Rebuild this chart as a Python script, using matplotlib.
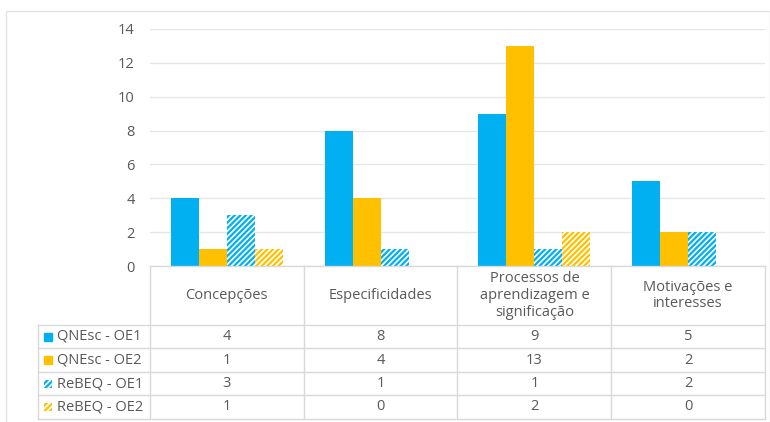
import matplotlib.pyplot as plt
from matplotlib.patches import Rectangle
from matplotlib.lines import Line2D

plt.rcParams['font.family'] = ['Open Sans', 'DejaVu Sans']
plt.rcParams['hatch.linewidth'] = 1.6

# dados
categorias = ['Concepções', 'Especificidades',
              'Processos de\naprendizagem e\nsignificação',
              'Motivações e\ninteresses']
series = ['QNEsc - OE1', 'QNEsc - OE2', 'ReBEQ - OE1', 'ReBEQ - OE2']
qnesc_oe1 = [4, 8, 9, 5]
qnesc_oe2 = [1, 4, 13, 2]
rebeq_oe1 = [3, 1, 1, 2]
rebeq_oe2 = [1, 0, 2, 0]
valores = [qnesc_oe1, qnesc_oe2, rebeq_oe1, rebeq_oe2]

azul = '#00B0F0'
ouro = '#FFC000'
cores = [azul, ouro, azul, ouro]
hachuras = [None, None, '//////', '//////']
texto = '#595959'
linha = '#D9D9D9'
fs = 10.5

W, H = 770, 422
fig = plt.figure(figsize=(W / 100, H / 100), dpi=100)

def fx(px):
    return px / W

def fy(py):
    return 1 - py / H

# moldura
fig.add_artist(Rectangle((fx(6), fy(424)), fx(770) - fx(6), fy(11) - fy(424),
                         transform=fig.transFigure, fill=False,
                         edgecolor='#E3E3E3', lw=1))

# grafico de barras
x0, x1, ytop, ybase = 150, 765, 29, 266
ax = fig.add_axes([fx(x0), fy(ybase), fx(x1) - fx(x0), fy(ytop) - fy(ybase)])
larg = 0.182
for i, (vals, cor, h) in enumerate(zip(valores, cores, hachuras)):
    pos = [k + (i - 1.5) * larg for k in range(len(categorias))]
    if h is None:
        ax.bar(pos, vals, width=larg, color=cor, zorder=3)
    else:
        ax.bar(pos, vals, width=larg, facecolor='white', edgecolor=cor,
               hatch=h, linewidth=0, zorder=3)
ax.set_xlim(-0.5, len(categorias) - 0.5)
ax.set_ylim(0, 14)
ax.set_yticks(range(0, 15, 2))
ax.set_xticks([])
ax.grid(axis='y', color='#E6E6E6', lw=1, zorder=0)
for s in ax.spines.values():
    s.set_visible(False)
ax.tick_params(axis='y', length=0, pad=11, labelsize=fs, labelcolor=texto)
ax.patch.set_alpha(0)

# tabela de dados
col = [x0 + (x1 - x0) * k / len(categorias) for k in range(len(categorias) + 1)]
linhas_y = [266, 325, 348, 372, 395, 419]
xleg = 38

def seg(xa, ya, xb, yb):
    fig.add_artist(Line2D([fx(xa), fx(xb)], [fy(ya), fy(yb)],
                          transform=fig.transFigure, color=linha, lw=1))

seg(x0, linhas_y[0], x1, linhas_y[0])
for yy in linhas_y[1:]:
    seg(xleg, yy, x1, yy)
for xx in col:
    seg(xx, linhas_y[0], xx, linhas_y[-1])
seg(xleg, linhas_y[1], xleg, linhas_y[-1])

for k, cat in enumerate(categorias):
    xc = (col[k] + col[k + 1]) / 2
    yc = (linhas_y[0] + linhas_y[1]) / 2
    fig.text(fx(xc), fy(yc), cat, ha='center', va='center', fontsize=fs,
             color=texto, linespacing=1.15)

for r, (nome, vals, cor, h) in enumerate(zip(series, valores, cores, hachuras)):
    yc = (linhas_y[r + 1] + linhas_y[r + 2]) / 2
    # chave da legenda
    if h is None:
        fig.add_artist(Rectangle((fx(44), fy(yc + 4)), fx(8), 8 / H,
                                 transform=fig.transFigure, color=cor))
    else:
        fig.add_artist(Rectangle((fx(44), fy(yc + 4)), fx(8), 8 / H,
                                 transform=fig.transFigure, facecolor='white',
                                 edgecolor=cor, hatch=h, lw=0))
    fig.text(fx(57), fy(yc), nome, ha='left', va='center', fontsize=fs,
             color=texto)
    for k, v in enumerate(vals):
        xc = (col[k] + col[k + 1]) / 2
        fig.text(fx(xc), fy(yc), str(v), ha='center', va='center',
                 fontsize=fs, color=texto)

fig.savefig('out.png', dpi=100)
